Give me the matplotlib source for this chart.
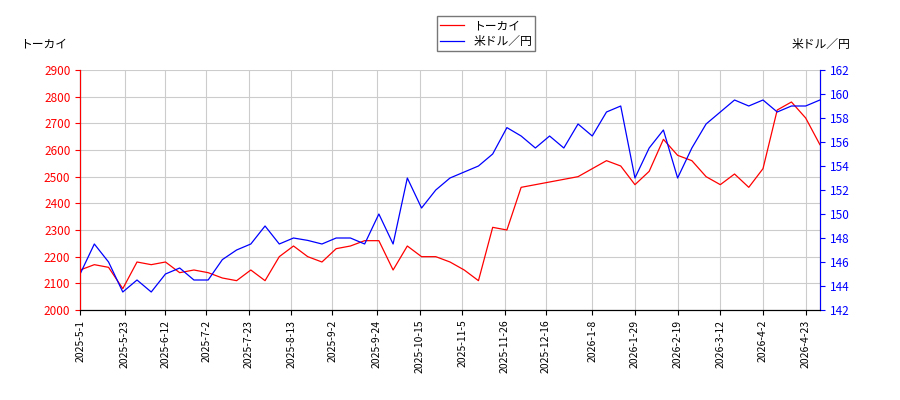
import matplotlib
matplotlib.use("Agg")
import matplotlib.pyplot as plt
import pandas as pd

plt.rcParams['font.family'] = ['Noto Sans CJK JP', 'DejaVu Sans']

dates = pd.date_range("2025-05-01", "2026-04-30", freq="7D")
tokai = [2150, 2170, 2160, 2080, 2180, 2170, 2180, 2140, 2150, 2140, 2120, 2110, 2150,
         2110, 2200, 2240, 2200, 2180, 2230, 2240, 2260, 2260, 2150, 2240, 2200, 2200,
         2180, 2150, 2110, 2310, 2300, 2460, 2470, 2480, 2490, 2500, 2530, 2560, 2540,
         2470, 2520, 2640, 2580, 2560, 2500, 2470, 2510, 2460, 2530, 2750, 2780, 2720, 2620]
usdjpy = [145, 147.5, 146, 143.5, 144.5, 143.5, 145, 145.5, 144.5, 144.5, 146.2, 147, 147.5,
          149, 147.5, 148, 147.8, 147.5, 148, 148, 147.5, 150, 147.5, 153, 150.5, 152,
          153, 153.5, 154, 155, 157.2, 156.5, 155.5, 156.5, 155.5, 157.5, 156.5, 158.5, 159,
          153, 155.5, 157, 153, 155.5, 157.5, 158.5, 159.5, 159, 159.5, 158.5, 159, 159, 159.5]
tick_dates = ["2025-5-1", "2025-5-23", "2025-6-12", "2025-7-2", "2025-7-23", "2025-8-13",
              "2025-9-2", "2025-9-24", "2025-10-15", "2025-11-5", "2025-11-26", "2025-12-16",
              "2026-1-8", "2026-1-29", "2026-2-19", "2026-3-12", "2026-4-2", "2026-4-23"]
n = min(len(dates), len(tokai), len(usdjpy))
dates, tokai, usdjpy = dates[:n], tokai[:n], usdjpy[:n]

fig = plt.figure(figsize=(9, 4), dpi=100)
ax = fig.add_axes([0.089, 0.225, 0.822, 0.6])
ax2 = ax.twinx()

l1, = ax.plot(dates, tokai, color='red', lw=0.9, label='トーカイ')
l2, = ax2.plot(dates, usdjpy, color='blue', lw=0.9, label='米ドル／円')

ax.set_ylim(2000, 2900)
ax2.set_ylim(142, 162)
ax2.set_yticks(range(142, 163, 2))
ax.set_xlim(pd.Timestamp("2025-05-01"), pd.Timestamp("2026-04-30"))
ticks = [pd.Timestamp(t) for t in tick_dates]
ax.set_xticks(ticks)
ax.set_xticklabels(tick_dates, rotation=90, fontsize=7.5)
ax.tick_params(axis='y', labelsize=8.5, color='red', labelcolor='red')
ax2.tick_params(axis='y', labelsize=8.5, color='blue', labelcolor='blue')
ax.grid(color='#cccccc')
for a in (ax, ax2):
    a.spines['top'].set_visible(False)
ax2.spines['left'].set_color('red')
ax2.spines['right'].set_color('blue')

fig.text(0.022, 0.88, 'トーカイ', fontsize=8.5)
fig.text(0.945, 0.88, '米ドル／円', fontsize=8.5, ha='right')
fig.legend(handles=[l1, l2], loc='upper center', bbox_to_anchor=(0.54, 0.975),
           fontsize=8.5, fancybox=False, edgecolor='#555555', borderpad=0.3,
           labelspacing=0.2)

fig.savefig("out.png", dpi=100)
